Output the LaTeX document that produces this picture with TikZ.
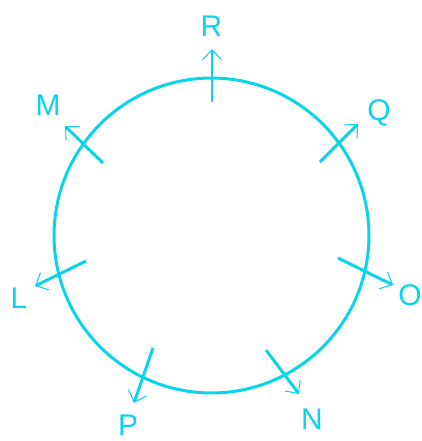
\documentclass[tikz,border=0pt]{standalone}
\usepackage{fontspec}
\setmainfont{Liberation Sans}
\usetikzlibrary{arrows.meta}
\definecolor{ringcyan}{RGB}{10, 212, 234}
\tikzset{
	ring/.style={draw=ringcyan, line width=1.7pt},
	field/.style={draw=ringcyan, line width=1.7pt,
		-{Straight Barb[length=0.2cm, width=0.38cm, line width=0.6pt]}},
	pole/.style={text=ringcyan, font=\fontsize{17}{20}\selectfont, inner sep=0pt}
}

\begin{document}
\begin{tikzpicture}[x=0.02cm, y=-0.02cm]
		\useasboundingbox (0,0) rectangle (422,441);
		\node[ring, circle, minimum size=6.3cm, inner sep=0pt] (c) at (211.5,235.5) {};
		% arrows through the ring
		\coordinate (r0) at (212,102);  \coordinate (r1) at (212,49);
		\coordinate (q0) at (320,162);  \coordinate (q1) at (358,124);
		\coordinate (m0) at (103,163);  \coordinate (m1) at (65,126);
		\coordinate (l0) at (86,261);   \coordinate (l1) at (35,286);
		\coordinate (o0) at (338,258);  \coordinate (o1) at (393,285);
		\coordinate (n0) at (266,350);  \coordinate (n1) at (299,394);
		\coordinate (p0) at (153,348);  \coordinate (p1) at (134,403);
		\draw[field] (r0) -- (r1);
		\draw[field] (q0) -- (q1);
		\draw[field] (m0) -- (m1);
		\draw[field] (l0) -- (l1);
		\draw[field] (o0) -- (o1);
		\draw[field] (n0) -- (n1);
		\draw[field] (p0) -- (p1);
		% labels
		\node[pole] (R) at (211.5,26) {R};
		\node[pole] (Q) at (379,113) {Q};
		\node[pole] (M) at (48,105) {M};
		\node[pole] (L) at (19,298) {L};
		\node[pole] (O) at (410,295) {O};
		\node[pole] (N) at (312,419) {N};
		\node[pole] (P) at (128,425) {P};
		\end{tikzpicture}
\end{document}
